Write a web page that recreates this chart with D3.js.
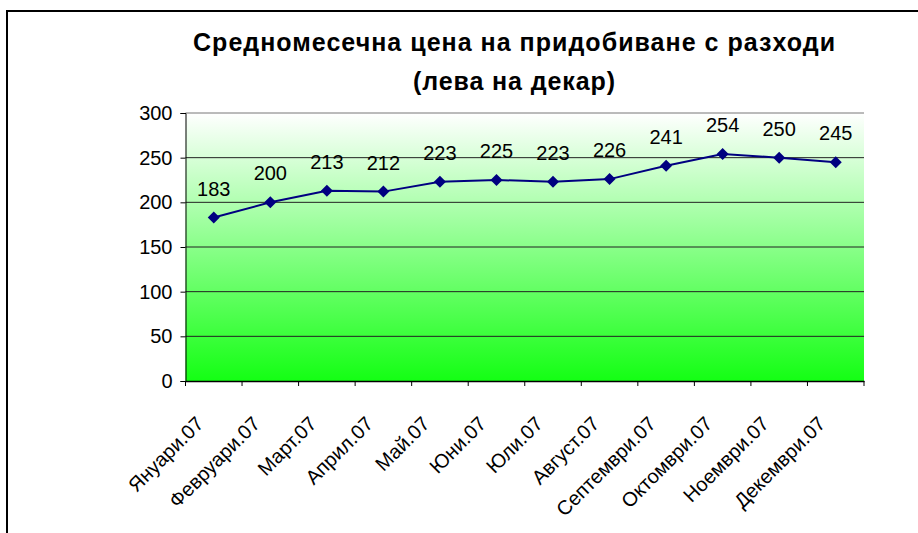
<!DOCTYPE html>
<html>
<head>
<meta charset="utf-8">
<script src="https://cdn.jsdelivr.net/npm/d3@7.9.0/dist/d3.min.js"></script>
<style>
  body { margin: 0; background: #fff; }
  svg { display: block; font-family: "Liberation Sans", Arial, sans-serif; }
</style>
</head>
<body>
<svg id="chart" width="918" height="533"></svg>
<script>
// chart data
const months = ["Януари.07", "Февруари.07", "Март.07", "Април.07", "Май.07", "Юни.07",
  "Юли.07", "Август.07", "Септември.07", "Октомври.07", "Ноември.07", "Декември.07"];
const prices = [183, 200, 213, 212, 223, 225, 223, 226, 241, 254, 250, 245];
const yTicks = [0, 50, 100, 150, 200, 250, 300];
const titleLines = ["Средномесечна цена на придобиване с разходи", "(лева на декар)"];

const svg = d3.select("#chart");
const plotL = 185.5, plotR = 864, plotT = 113, plotB = 381;

// outer frame (only top and left show)
svg.append("path")
  .attr("d", "M7,533V11H918")
  .attr("fill", "none")
  .attr("stroke", "#000")
  .attr("stroke-width", 2);

// background gradient
const grad = svg.append("defs").append("linearGradient")
  .attr("id", "bg").attr("x1", 0).attr("y1", 0).attr("x2", 0).attr("y2", 1);
grad.append("stop").attr("offset", "0%").attr("stop-color", "#ffffff");
grad.append("stop").attr("offset", "100%").attr("stop-color", "#14ff14");

let x = d3.scaleBand().domain(months).range([plotL, plotR]);
let y = d3.scaleLinear().domain([0, 300]).range([plotB, plotT]);

svg.append("rect")
  .attr("x", plotL).attr("y", plotT)
  .attr("width", plotR - plotL).attr("height", plotB - plotT)
  .attr("fill", "url(#bg)");

// gridlines
svg.selectAll(".grid")
  .data(yTicks.filter(d => d > 0))
  .join("line")
  .attr("x1", plotL).attr("x2", plotR)
  .attr("y1", d => y(d)).attr("y2", d => y(d))
  .attr("stroke", d => d === 300 ? "#777" : "#222")
  .attr("stroke-width", 1);

// y axis
const yAxis = svg.append("g")
  .attr("transform", `translate(${plotL},0)`)
  .call(d3.axisLeft(y).tickValues(yTicks).tickSize(5).tickPadding(8));
yAxis.selectAll("text").attr("font-size", 20).attr("fill", "#000");
yAxis.selectAll("line, path").attr("stroke", "#000");

// x axis with ticks at band edges
const xAxis = svg.append("g")
  .attr("transform", `translate(0,${plotB})`)
  .call(d3.axisBottom(x).tickSize(0).tickPadding(0));
xAxis.select("path").attr("stroke", "#000").attr("stroke-width", 1.5);
xAxis.selectAll("text")
  .attr("font-size", 20)
  .attr("fill", "#000")
  .attr("text-anchor", "end")
  .attr("dy", 0)
  .attr("y", 0)
  .attr("transform", "translate(-9,44) rotate(-45)");
const edges = months.map(m => x(m)).concat([plotR]);
xAxis.selectAll(".edge")
  .data(edges)
  .join("line")
  .attr("x1", d => d).attr("x2", d => d)
  .attr("y1", 0).attr("y2", 5)
  .attr("stroke", "#000");

// line
const pts = months.map((m, i) => [x(m) + x.bandwidth() / 2, y(prices[i])]);
svg.append("path")
  .attr("d", d3.line()(pts))
  .attr("fill", "none")
  .attr("stroke", "#000080")
  .attr("stroke-width", 2);

// diamond markers
svg.selectAll(".mk")
  .data(pts)
  .join("path")
  .attr("d", d => `M${d[0]},${d[1] - 6}L${d[0] + 6},${d[1]}L${d[0]},${d[1] + 6}L${d[0] - 6},${d[1]}Z`)
  .attr("fill", "#000080");

// value labels
svg.selectAll(".lbl")
  .data(pts)
  .join("text")
  .attr("x", d => d[0])
  .attr("y", d => d[1] - 22)
  .attr("text-anchor", "middle")
  .attr("font-size", 20)
  .text((d, i) => prices[i]);

// title
const titleWidths = [642, 202];
svg.selectAll(".title")
  .data(titleLines)
  .join("text")
  .attr("x", 514)
  .attr("y", (d, i) => 51 + i * 39)
  .attr("text-anchor", "middle")
  .attr("font-size", 25)
  .attr("font-weight", "bold")
  .attr("textLength", (d, i) => titleWidths[i])
  .attr("lengthAdjust", "spacing")
  .text(d => d);
</script>
</body>
</html>
